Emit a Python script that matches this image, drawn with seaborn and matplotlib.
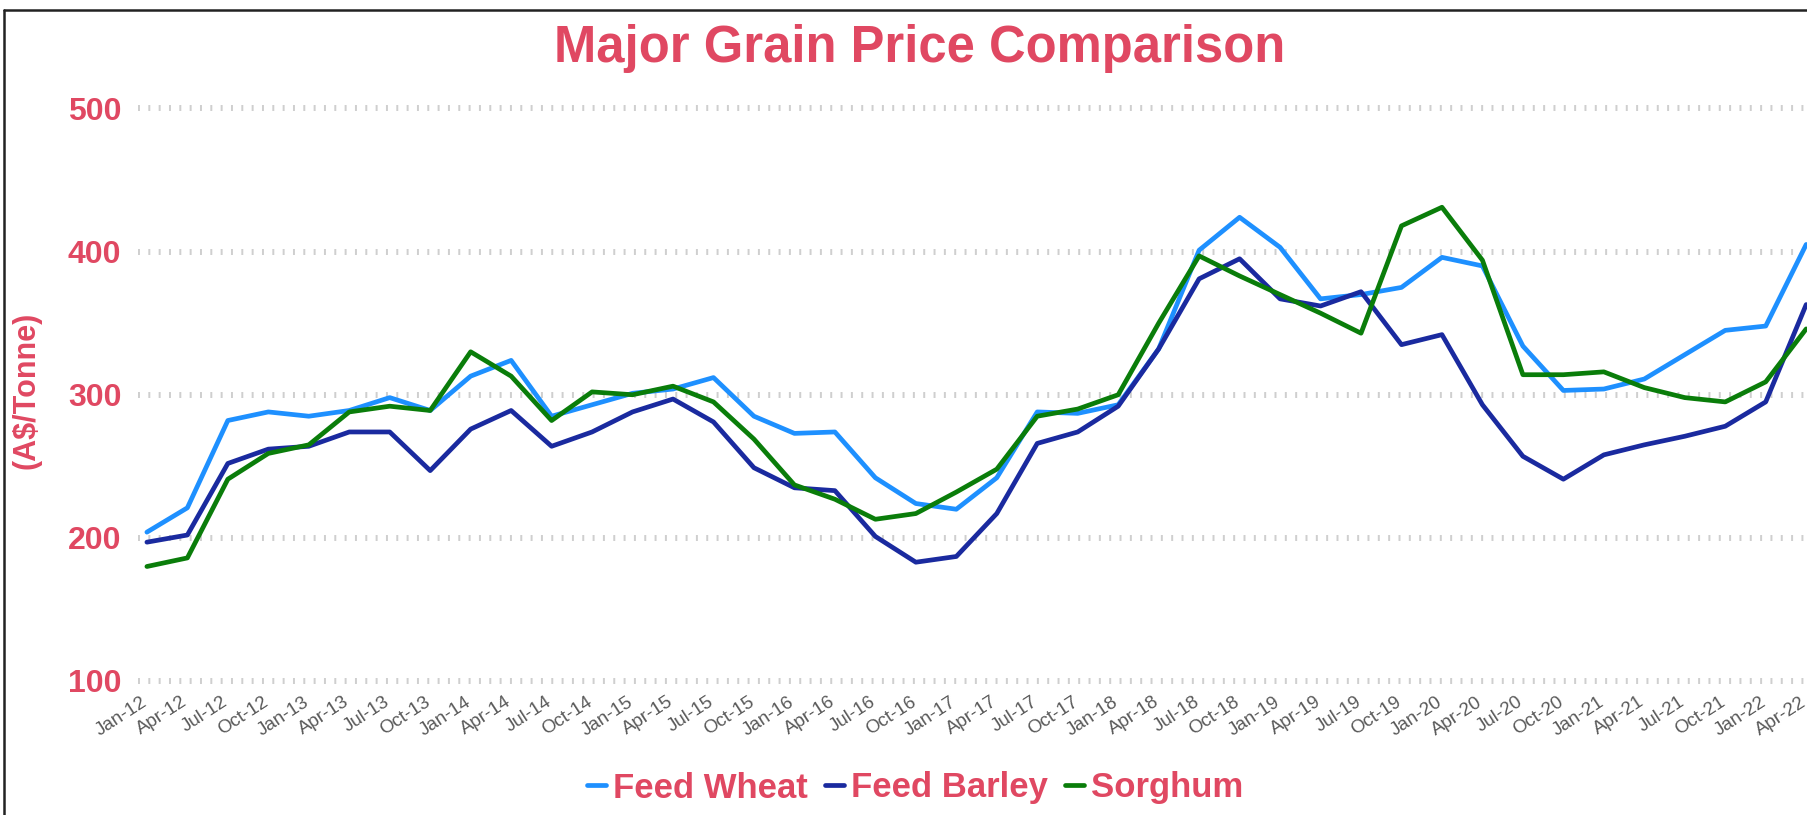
"""
Major grain price comparison (quarterly, A$/tonne)
"""

import matplotlib.pyplot as plt
import matplotlib.transforms as mtransforms
from matplotlib.lines import Line2D
import seaborn as sns
import pandas as pd

# quarterly labels Jan-12 .. Apr-22
quarters = ['Jan-12', 'Apr-12', 'Jul-12', 'Oct-12', 'Jan-13', 'Apr-13', 'Jul-13', 'Oct-13',
            'Jan-14', 'Apr-14', 'Jul-14', 'Oct-14', 'Jan-15', 'Apr-15', 'Jul-15', 'Oct-15',
            'Jan-16', 'Apr-16', 'Jul-16', 'Oct-16', 'Jan-17', 'Apr-17', 'Jul-17', 'Oct-17',
            'Jan-18', 'Apr-18', 'Jul-18', 'Oct-18', 'Jan-19', 'Apr-19', 'Jul-19', 'Oct-19',
            'Jan-20', 'Apr-20', 'Jul-20', 'Oct-20', 'Jan-21', 'Apr-21', 'Jul-21', 'Oct-21',
            'Jan-22', 'Apr-22']

feed_wheat = [204, 221, 282, 288, 285, 289, 298, 289, 313, 324, 285, 293, 301, 304,
              312, 285, 273, 274, 242, 224, 220, 242, 288, 287, 293, 332, 401, 424,
              403, 367, 370, 375, 396, 390, 334, 303, 304, 311, 328, 345, 348, 405]

feed_barley = [197, 202, 252, 262, 264, 274, 274, 247, 276, 289, 264, 274, 288, 297,
               281, 249, 235, 233, 201, 183, 187, 217, 266, 274, 292, 332, 381, 395,
               367, 362, 372, 335, 342, 293, 257, 241, 258, 265, 271, 278, 295, 363]

sorghum = [180, 186, 241, 259, 265, 288, 292, 289, 330, 313, 282, 302, 300, 306,
           295, 269, 237, 227, 213, 217, 232, 248, 285, 290, 300, 350, 397, 383,
           370, 357, 343, 418, 431, 394, 314, 314, 316, 305, 298, 295, 309, 346]

series_names = ['Feed Wheat', 'Feed Barley', 'Sorghum']
colors = ['#1E90FF', '#1A2A9F', '#0A7D0A']
y_ticks = [100, 200, 300, 400, 500]

RED = '#E04862'

sns.set_theme(style='white')
plt.rcParams['font.family'] = ['Liberation Sans', 'DejaVu Sans']

# long format for seaborn
df = pd.DataFrame({
    'idx': list(range(len(quarters))) * 3,
    'price': feed_wheat + feed_barley + sorghum,
    'grain': [n for n in series_names for _ in quarters],
})

W, H = 1807, 815
fig = plt.figure(figsize=(W / 100, H / 100), dpi=100)
ax = fig.add_axes([138 / W, 1 - 681 / H, 1 - 138 / W, (681 - 108.5) / H])

# dotted grid lines (drawn first so lines sit on top)
for yv in y_ticks:
    ax.axhline(yv, color='#CFCFCF', linewidth=4.3, linestyle=(0, (0.33, 1.4)),
               clip_on=False, zorder=0)

sns.lineplot(data=df, x='idx', y='price', hue='grain', hue_order=series_names,
             palette=colors, linewidth=3.4, ax=ax, legend=False, zorder=3)

ax.set_xlim(-0.22, 41.02)
ax.set_ylim(100, 500)
ax.set_xlabel('')
ax.set_ylabel('')
for s in ax.spines.values():
    s.set_visible(False)

ax.set_yticks(y_ticks)
ax.set_yticklabels([str(v) for v in y_ticks], fontsize=23, fontweight='bold', color=RED)
ax.set_xticks(range(len(quarters)))
ax.set_xticklabels(quarters, fontsize=13.5, color='#595959', rotation=33,
                   ha='right', va='top', rotation_mode='anchor')
ax.tick_params(axis='y', length=0, pad=12)
ax.tick_params(axis='x', length=0, pad=9)

# nudge x labels a little to the left
shift = mtransforms.ScaledTranslation(-6 / 100, 0, fig.dpi_scale_trans)
for lab in ax.get_xticklabels():
    lab.set_transform(lab.get_transform() + shift)

# title and y label
fig.text(920 / W, 1 - 62 / H, 'Major Grain Price Comparison', ha='center', va='baseline',
         fontsize=36.5, fontweight='bold', color=RED)
fig.text(27 / W, 1 - 390 / H, '(A$/Tonne)', rotation=90, ha='center', va='center',
         fontsize=22, fontweight='bold', color=RED)

# legend at bottom
handles = [Line2D([0], [0], color=c, linewidth=3.4) for c in colors]
fig.legend(handles, series_names, loc='center', bbox_to_anchor=(915 / W, 1 - 788 / H),
           ncol=3, frameon=False, handlelength=0.55, handletextpad=0.2,
           columnspacing=0.5, labelcolor=RED,
           prop={'size': 25, 'weight': 'bold'})

# outer frame (top and left edges visible)
fig.add_artist(Line2D([4 / W, 4 / W], [0, 1 - 10 / H], color='#222222', linewidth=1.8))
fig.add_artist(Line2D([4 / W, 1], [1 - 10 / H, 1 - 10 / H], color='#222222', linewidth=1.8))

plt.savefig('out.png', dpi=100)
plt.close()
